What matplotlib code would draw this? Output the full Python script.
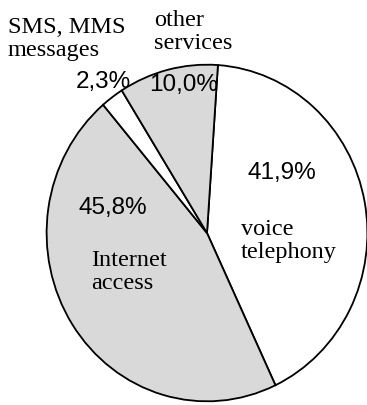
import matplotlib.pyplot as plt

# data
categories = ['voice telephony', 'Internet access', 'SMS, MMS messages', 'other services']
shares = [41.9, 45.8, 2.3, 10.0]
pct_labels = ['41,9%', '45,8%', '2,3%', '10,0%']
fills = ['white', '#d9d9d9', 'white', '#d9d9d9']

W, H = 367, 405
fig = plt.figure(figsize=(W / 100, H / 100), dpi=100)

# pie is slightly taller than wide in the reference
cx, cy, rx, ry = 207, 233, 162, 170
ax = fig.add_axes([(cx - rx) / W, (H - cy - ry) / H, 2 * rx / W, 2 * ry / H])
ax.pie(shares, colors=fills, startangle=86.1, counterclock=False,
       wedgeprops=dict(edgecolor='black', linewidth=1.3))
ax.set_aspect('auto')
ax.set_xlim(-1.01, 1.01)
ax.set_ylim(-1.01, 1.01)
ax.axis('off')


def px(x, y):
    return x / W, 1 - y / H


# percentages (sans)
pct_pos = [(282, 173), (113, 208), (103, 82), (184, 85)]
for lab, (x, y) in zip(pct_labels, pct_pos):
    fig.text(*px(x, y), lab, ha='center', va='center',
             family='Liberation Sans', fontsize=17.5)

# category names (serif)
name_text = ['voice\ntelephony', 'Internet\naccess', 'SMS, MMS\nmessages', 'other\nservices']
name_pos = [(241, 241), (91, 272), (8, 39), (154, 32)]
for lab, (x, y) in zip(name_text, name_pos):
    fig.text(*px(x, y), lab, ha='left', va='center', linespacing=1.12,
             family='Liberation Serif', fontsize=17.5)

fig.savefig('out.png', dpi=100)
